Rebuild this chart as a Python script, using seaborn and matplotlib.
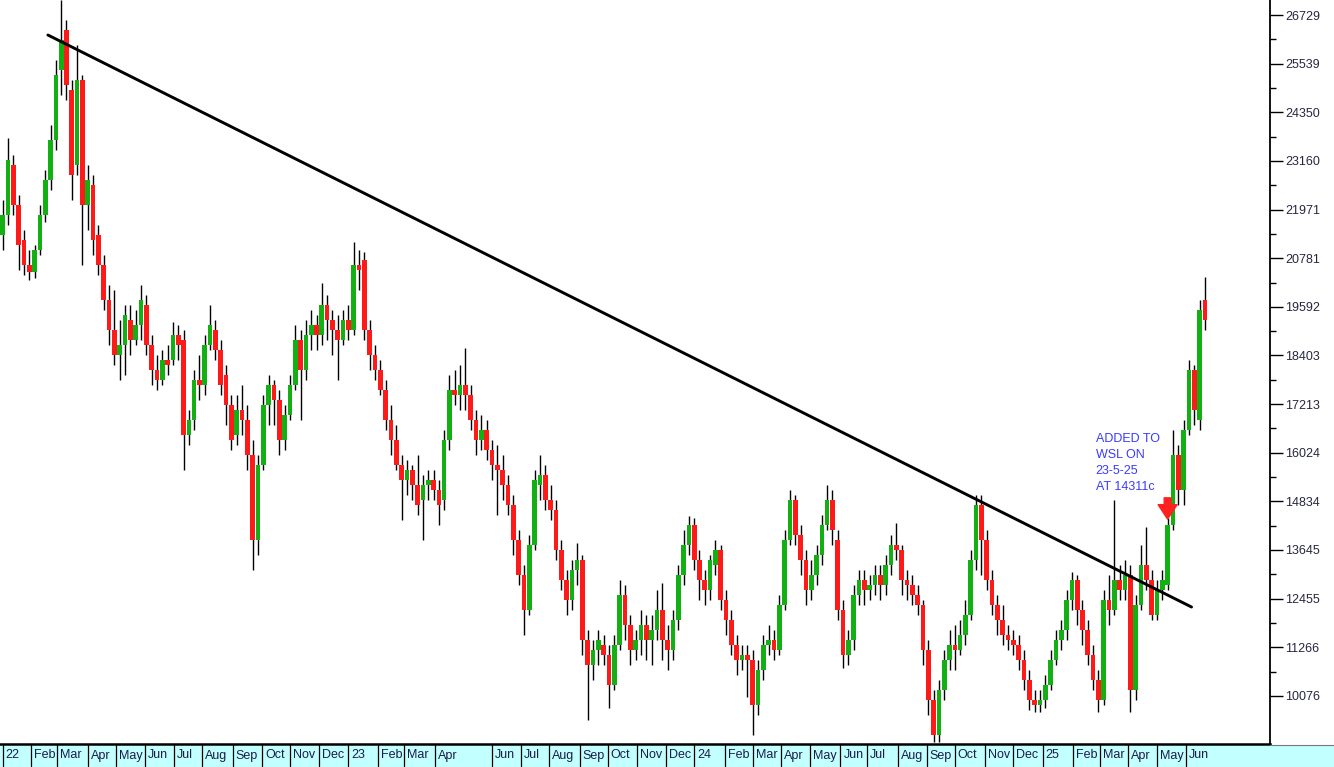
import numpy as np
import pandas as pd
import matplotlib
matplotlib.use("Agg")
import matplotlib.pyplot as plt
import seaborn as sns
from matplotlib.patches import Rectangle
from matplotlib.lines import Line2D
from matplotlib.transforms import blended_transform_factory

# candles of 4 trading days each, starting 3 Jan 2022 (prices in cents)
opens = [21350, 21840, 23060, 22080, 21230, 20620, 20450, 20980, 21840, 22690,
         23670, 25380, 26360, 24900, 23060, 25140, 22080, 22570, 21350, 20620,
         19760, 19030, 18420, 18660, 19270, 18780, 19150, 19640, 18660, 18050,
         17800, 18290, 18290, 18900, 18780, 16460, 16830, 17800, 17680, 18660,
         19030, 18540, 17930, 17190, 16460, 17070, 16830, 15970, 13890, 15730,
         17190, 17680, 17310, 16340, 16950, 17680, 18780, 18050, 18900, 19150,
         18900, 19640, 19270, 19030, 18780, 19270, 19030, 20620, 20740, 19030,
         18420, 18050, 17560, 16830, 16340, 15730, 15360, 15600, 15240, 14870,
         15240, 15360, 15110, 14870, 16340, 17560, 17440, 17680, 17440, 16830,
         16340, 16580, 16090, 15730, 15600, 15240, 14750, 13890, 13040, 12180,
         13770, 15240, 15480, 14870, 14620, 13650, 12910, 12420, 13160, 13400,
         11450, 10830, 11200, 11320, 11080, 10350, 11320, 12550, 11810, 11200,
         11450, 11810, 11450, 11690, 12180, 11450, 11200, 11930, 13040, 13770,
         14260, 13400, 12910, 12670, 13280, 13650, 12420, 11930, 11320, 10960,
         11080, 10960, 9860, 10710, 11320, 11450, 11200, 12300, 13890, 14870,
         14010, 13400, 12670, 13040, 13520, 14260, 14870, 13890, 12180, 11080,
         11450, 12550, 12910, 12670, 12790, 13040, 12790, 13280, 13770, 13650,
         12910, 12790, 12550, 12300, 11200, 9980, 9120, 10220, 10960, 11320,
         11200, 11570, 12060, 13400, 14750, 13890, 12910, 12300, 11930, 11570,
         11450, 11320, 10960, 10470, 9980, 9860, 9980, 10350, 10960, 11450,
         11690, 12420, 12910, 12180, 11690, 11080, 10470, 9980, 12420, 12180,
         12910, 12670, 13040, 10220, 12300, 13280, 12910, 12060, 12670, 12790,
         14260, 15970, 15110, 16580, 18050, 16830, 19760]

highs = [22210, 23720, 23310, 22330, 21470, 20980, 21110, 22080, 22940, 24040,
         25630, 27100, 26610, 25140, 26000, 25260, 23060, 22820, 21590, 20860,
         20130, 20000, 19270, 19640, 19640, 19520, 20130, 19880, 18900, 18420,
         18540, 18660, 19220, 19150, 19030, 17070, 18050, 18420, 18900, 19640,
         19270, 18780, 18170, 17440, 17440, 17680, 17190, 16340, 15970, 17440,
         17930, 17800, 17560, 17190, 17930, 19150, 19030, 19270, 19520, 19390,
         20180, 19880, 19520, 19390, 19520, 19640, 21180, 20980, 20930, 19270,
         18660, 18290, 17800, 17190, 16700, 15970, 15850, 15730, 15970, 15480,
         15600, 15600, 15360, 16580, 17930, 18050, 18170, 18590, 17680, 17070,
         16950, 16830, 16340, 16210, 15970, 15480, 14990, 14140, 13280, 14010,
         15600, 15970, 15730, 15240, 14870, 13890, 13160, 13400, 13820, 13520,
         11690, 11450, 11690, 11570, 11320, 11570, 12910, 12790, 12060, 11690,
         12180, 12060, 12060, 12670, 12840, 11810, 12180, 13280, 14140, 14480,
         14430, 13650, 13160, 13520, 13890, 13770, 12670, 12180, 11570, 11320,
         11320, 11200, 10960, 11570, 11810, 11690, 12550, 14140, 15110, 14990,
         14260, 13650, 13400, 13770, 14500, 15240, 15110, 14140, 12420, 11690,
         12790, 13160, 13160, 13040, 13280, 13280, 13520, 14010, 14310, 13770,
         13160, 13040, 12790, 12420, 11450, 10220, 10470, 11200, 11690, 11810,
         11930, 12420, 13650, 14990, 14990, 14140, 13160, 12550, 12300, 11810,
         11690, 11570, 11200, 10710, 10220, 10220, 10590, 11200, 11690, 11930,
         12670, 13110, 13040, 12420, 11930, 11320, 10710, 12670, 13040, 14870,
         13280, 13400, 13280, 12550, 13770, 14210, 13160, 12910, 13160, 14430,
         16580, 16210, 16830, 18290, 18170, 19760, 20320]

lows = [20980, 21590, 21840, 20490, 20370, 20250, 20300, 20860, 21670, 22450,
        23430, 24770, 24650, 22210, 22820, 20620, 21470, 20860, 20370, 19520,
        18660, 18170, 17800, 17930, 18420, 18660, 18780, 18420, 17680, 17560,
        17680, 17930, 18170, 18290, 15600, 16210, 16580, 17310, 17440, 18540,
        18290, 17440, 16700, 16090, 16210, 16460, 15600, 13160, 13520, 15600,
        16700, 16700, 15970, 16090, 16830, 17560, 16830, 17800, 18540, 18540,
        18660, 18780, 18420, 17800, 18660, 18780, 18900, 20000, 18780, 18050,
        17800, 17440, 16580, 15970, 15600, 14380, 14990, 14870, 14500, 13890,
        14870, 14870, 14260, 14620, 16090, 17190, 17070, 17070, 16580, 15970,
        16090, 15850, 15360, 14500, 14870, 14500, 13520, 12790, 11570, 12060,
        13650, 14870, 14620, 14380, 13400, 12670, 12060, 12180, 12790, 11080,
        9490, 10470, 10830, 10830, 9780, 10220, 11200, 11450, 10830, 10960,
        11080, 10960, 10830, 11450, 10960, 10710, 10960, 11690, 12790, 13520,
        13160, 12420, 12300, 12420, 13040, 12180, 11570, 11080, 10590, 10710,
        10050, 9120, 9610, 10470, 11080, 10960, 11080, 12180, 13770, 13770,
        13040, 12300, 12420, 12790, 13280, 14140, 13770, 11930, 10760, 10830,
        11200, 12300, 12300, 12420, 12550, 12420, 12550, 13040, 13400, 12550,
        12420, 12300, 12060, 10830, 9610, 8950, 8950, 9980, 10710, 10710,
        11080, 11320, 11930, 13160, 13040, 12670, 12060, 11570, 11320, 11200,
        11080, 10710, 10220, 9730, 9690, 9690, 9780, 10220, 10830, 11200,
        11450, 12180, 11810, 11320, 10830, 10220, 9690, 9860, 11810, 12060,
        12420, 12420, 9690, 9980, 12180, 12670, 11930, 11930, 12420, 12670,
        14140, 14750, 14750, 16460, 16700, 16580, 19030]

closes = [21840, 23180, 22080, 21110, 20620, 20450, 20980, 21840, 22690, 23670,
          25260, 26120, 25020, 22820, 25140, 22080, 22690, 21230, 20620, 19760,
          19030, 18420, 18660, 19390, 18780, 19150, 19760, 18660, 18050, 17800,
          18290, 18170, 18900, 18660, 16460, 16830, 17800, 17680, 18660, 19150,
          18540, 17680, 17190, 16340, 17070, 16830, 15970, 13890, 15730, 17190,
          17680, 17310, 16340, 16950, 17680, 18780, 18050, 18900, 19150, 18900,
          19640, 19270, 19030, 18780, 19270, 19030, 20620, 20490, 19030, 18420,
          18050, 17560, 16830, 16340, 15730, 15360, 15600, 15240, 14750, 15240,
          15360, 15110, 14750, 16340, 17560, 17440, 17680, 17440, 16830, 16340,
          16580, 16090, 15730, 15600, 15240, 14750, 13890, 13040, 12180, 13770,
          15360, 15480, 14870, 14620, 13650, 12910, 12420, 13160, 13400, 11450,
          10830, 11200, 11450, 11080, 10350, 11320, 12550, 11810, 11200, 11450,
          11810, 11450, 11690, 12180, 11450, 11200, 11930, 13040, 13770, 14260,
          13400, 12910, 12670, 13400, 13650, 12420, 11930, 11320, 10960, 11080,
          10960, 9860, 10710, 11320, 11450, 11200, 12300, 13890, 14870, 14010,
          13400, 12670, 13040, 13520, 14260, 14870, 14140, 12180, 11080, 11450,
          12550, 12910, 12670, 12790, 13040, 12790, 13280, 13770, 13650, 12910,
          12790, 12550, 12300, 11200, 9980, 9120, 10220, 10960, 11320, 11200,
          11570, 12060, 13400, 14750, 13890, 12910, 12300, 11930, 11570, 11450,
          11320, 10960, 10470, 9980, 9860, 9980, 10350, 10960, 11450, 11690,
          12420, 12910, 12180, 11690, 11080, 10470, 9980, 12420, 12180, 12910,
          12670, 13040, 10220, 12300, 13280, 12910, 12060, 12670, 12910, 14260,
          15970, 15110, 16580, 18050, 17070, 19520, 19270]

ytick_values = [10076, 11266, 12455, 13645, 14834, 16024, 17213, 18403,
                19592, 20781, 21971, 23160, 24350, 25539, 26729]

trend_days = [34, 894]
trend_prices = [26240, 12250]

note_text = "ADDED TO\nWSL ON\n23-5-25\nAT 14311c"
note_day, note_price = 822, 16500
arrow_day, arrow_top, arrow_tip = 876, 14920, 14400

sns.set_style("white")
plt.rcParams["font.family"] = ["Liberation Sans", "DejaVu Sans"]

fig = plt.figure(figsize=(13.34, 7.67), dpi=100)
ax = fig.add_axes([0, 23 / 767, 1270 / 1334, 744 / 767])

x = np.arange(len(closes)) * 4
o = np.array(opens)
c = np.array(closes)
up = c >= o
colors = np.where(up, "#12B012", "#FF1A1A")

ax.vlines(x, lows, highs, color="black", linewidth=1.0, zorder=2)
ax.bar(x, np.maximum(np.abs(c - o), 30), bottom=np.minimum(o, c), width=3.5,
       color=colors, edgecolor="none", zorder=3)

sns.lineplot(x=trend_days, y=trend_prices, ax=ax, color="black", linewidth=2.1, zorder=4)

ax.text(note_day, note_price, note_text, ha="left", va="top", color="#3a3aff",
        fontsize=9, linespacing=1.45)
ax.annotate("", xy=(arrow_day, arrow_tip), xytext=(arrow_day, arrow_top),
            arrowprops=dict(arrowstyle="simple,head_length=0.8,head_width=1.05,tail_width=0.38",
                            color="#FF2020", shrinkA=0, shrinkB=0, mutation_scale=13),
            zorder=5)

ax.set_xlim(-2, 953)
ax.set_ylim(8900, 27096)
ax.set_xticks([])
ax.set_xlabel("")
ax.set_ylabel("")

# right-hand price axis
ax.yaxis.tick_right()
ax.set_yticks(ytick_values)
ax.set_yticklabels([str(v) for v in ytick_values])
mids = [(a + b) / 2 for a, b in zip(ytick_values[:-1], ytick_values[1:])]
ax.set_yticks(mids, minor=True)
ax.tick_params(axis="y", which="major", length=9, width=1, direction="out",
               pad=2, labelsize=9, labelcolor="#262640", color="black")
ax.tick_params(axis="y", which="minor", length=4.5, width=1, direction="out", color="black")

for side in ["top", "left"]:
    ax.spines[side].set_visible(False)
ax.spines["right"].set_color("black")
ax.spines["right"].set_linewidth(1.3)
ax.spines["bottom"].set_color("black")
ax.spines["bottom"].set_linewidth(1.8)

# month strip along the bottom
fig.add_artist(Rectangle((0, 0), 1, 22 / 767, transform=fig.transFigure,
                         facecolor="#C2FFFF", edgecolor="none", zorder=0))
fig.add_artist(Line2D([1270 / 1334, 1], [22.5 / 767, 22.5 / 767], color="#777777",
                      linewidth=0.8, transform=fig.transFigure))

days = pd.bdate_range("2022-01-03", "2025-07-31")
month_starts = [m for m in pd.date_range("2022-01-01", "2025-06-01", freq="MS")
                if m != pd.Timestamp("2023-05-01")]
month_labels = [m.strftime("%y") if m.month == 1 else m.strftime("%b") for m in month_starts]
month_pos = days.searchsorted(month_starts)

blend = blended_transform_factory(ax.transData, ax.transAxes)
for pos, lab in zip(month_pos, month_labels):
    ax.plot([pos, pos], [-22 / 744, 0], transform=blend, color="black",
            linewidth=0.9, clip_on=False)
    ax.text(pos + 2.2, -11.5 / 744, lab, transform=blend, ha="left", va="center",
            fontsize=9, color="#1c1c48", clip_on=False)

fig.savefig("out.png", dpi=100, facecolor="white")
